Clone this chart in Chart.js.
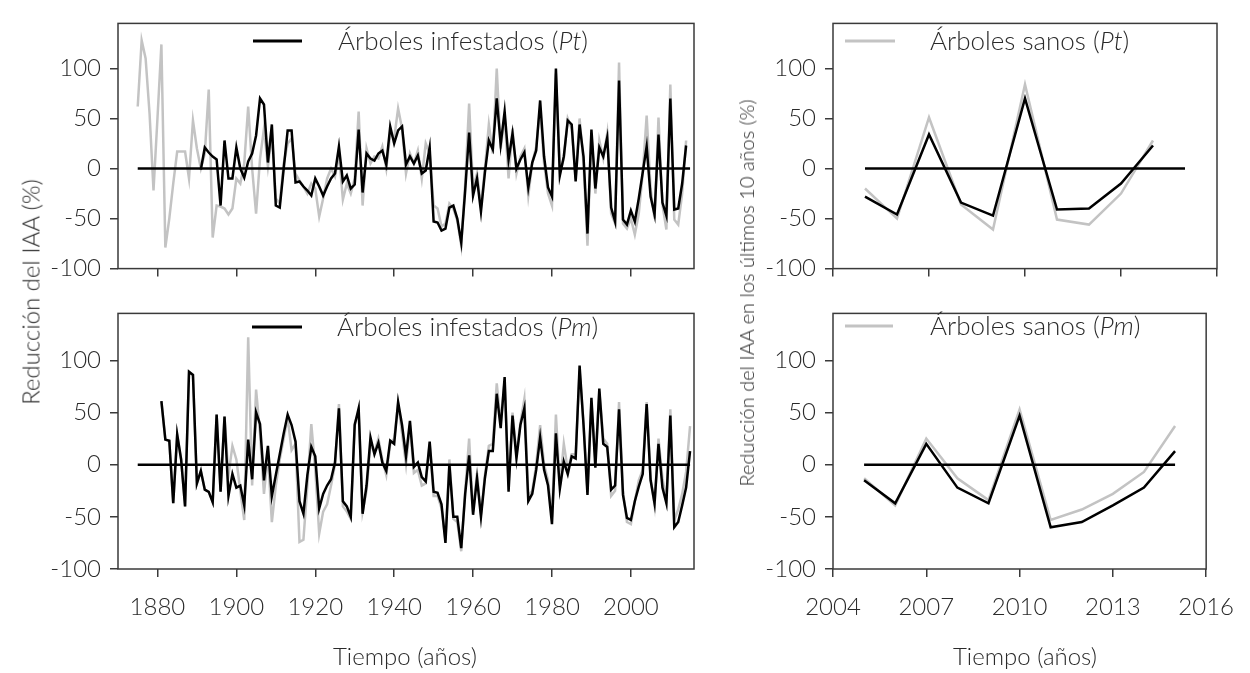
<!DOCTYPE html>
<html lang="es">
<head>
<meta charset="UTF-8">
<title>Reducción del IAA</title>
<script src="https://cdn.jsdelivr.net/npm/chart.js"></script>
<style>
  html, body { margin: 0; padding: 0; background: #fff; }
  #page { position: relative; width: 1250px; height: 673px; overflow: hidden; font-family: Lato, sans-serif; font-weight: 300; color: #2a2a2a; }
  .box { position: absolute; }
  .lbl { position: absolute; white-space: nowrap; font-size: 24px; transform: translate(-50%, -50%); }
  .rot { transform: translate(-50%, -50%) rotate(-90deg); }
</style>
</head>
<body>
<div id="page">
  <div class="box" style="left:0;top:0;width:700px;height:292px"><canvas id="tl"></canvas></div>
  <div class="box" style="left:0;top:290px;width:700px;height:383px"><canvas id="bl"></canvas></div>
  <div class="box" style="left:720px;top:0;width:530px;height:292px"><canvas id="tr"></canvas></div>
  <div class="box" style="left:720px;top:290px;width:530px;height:383px"><canvas id="br"></canvas></div>

  <div class="lbl rot" style="left:30px;top:292px">Reducción del IAA (%)</div>
  <div class="lbl rot" style="left:746px;top:293px;font-size:20px">Reducción del IAA en los últimos 10 años (%)</div>
  <div class="lbl" style="left:405px;top:655px">Tiempo (años)</div>
  <div class="lbl" style="left:1025px;top:655px">Tiempo (años)</div>
</div>

<script>
// ---- datos ----
// Pt, árboles sanos, 1875-2014
const sanosPtStart = 1875;
const sanosPt = [62, 128, 110, 55, -22, 50, 124, -79, -50, -15,
  17, 17, 17, -10, 48, 20, 0, 15, 79, -69,
  -37, -38, -40, -46, -40, -10, -15, 5, 62, 0,
  -45, 10, 40, 2, 35, -30, -35, 5, 25, 30,
  -5, -12, -18, -25, -15, -20, -48, -30, -10, 0,
  -8, 15, -31, -15, -25, -10, 57, -37, 20, 5,
  12, 10, 22, 0, 35, 30, 60, 40, -5, 15,
  5, 18, -10, 25, 15, -37, -40, -58, -55, -35,
  -40, -52, -77, -15, 65, -20, -5, -38, 0, 44,
  15, 100, 20, 52, -10, 40, -5, 12, 20, -27,
  5, 22, 60, 5, -25, -37, 95, -5, 10, 50,
  40, -10, 50, 5, -77, 35, -25, 28, 10, 35,
  -45, -55, 106, -55, -60, -50, -66, -45, -5, 53,
  -20, -50, 51, -36, -61, 84, -51, -56, -25, 28];

// Pt, árboles infestados, 1891-2014
const infestPtStart = 1891;
const infestPt = [-1, 21, 16, 12, 9, -37, 28, -10, -10, 21,
  0, -9, 7, 15, 33, 70, 64, 6, 44, -37,
  -39, 0, 38, 38, -14, -13, -18, -22, -27, -10,
  -18, -27, -18, -10, -5, 22, -13, -7, -20, -16,
  39, -24, 15, 10, 8, 15, 18, 4, 42, 25,
  38, 42, 4, 12, 5, 13, -5, -2, 21, -53,
  -54, -62, -60, -39, -37, -50, -74, -22, 36, -27,
  -10, -43, -4, 28, 19, 70, 24, 57, 9, 35,
  0, 9, 16, -19, 6, 18, 68, 12, -19, -28,
  100, -7, 12, 48, 44, -13, 44, 12, -65, 39,
  -20, 21, 12, 31, -39, -53, 88, -51, -56, -42,
  -53, -30, -4, 22, -28, -46, 34, -34, -47, 70,
  -41, -40, -15, 23];

// Pm, árboles sanos, 1881-2015
const sanosPmStart = 1881;
const sanosPm = [61, 24, 23, -37, 29, 5, -40, 89, 86, -18,
  -6, -24, -26, -36, 48, -26, 46, -10, 18, 5,
  -25, -53, 122, -20, 72, 30, -28, 10, -55, -20,
  5, 25, 45, 14, 20, -74, -72, -20, 39, -5,
  -66, -45, -38, -20, 0, 58, -40, -45, -52, 40,
  50, -45, -25, 20, 12, 25, 5, -10, 20, 25,
  58, 30, 0, 38, -8, -5, -20, -18, 20, -30,
  -30, -42, -72, 5, -52, -55, -83, -25, 25, -45,
  -8, -48, -10, 18, 20, 78, 40, 80, -20, 50,
  10, 40, 63, -30, -25, 0, 38, 0, -15, -50,
  48, -20, 20, -5, 10, 10, 90, 40, -25, 60,
  5, 70, 25, 20, -30, -25, 60, -25, -55, -57,
  -35, -15, -5, 60, -13, -39, 25, -13, -34, 53,
  -53, -43, -28, -7, 37];

// Pm, árboles infestados, 1881-2015
const infestPmStart = 1881;
const infestPm = [61, 24, 23, -37, 29, 5, -40, 89, 86, -18,
  -6, -24, -26, -36, 48, -26, 46, -30, -9, -22,
  -20, -39, 24, -14, 50, 39, -15, 18, -30, -10,
  10, 30, 48, 38, 22, -35, -47, -10, 17, 8,
  -42, -28, -20, -14, 2, 54, -35, -40, -50, 38,
  54, -47, -20, 26, 10, 21, 2, -6, 23, 20,
  60, 38, 8, 42, -2, 2, -12, -16, 22, -26,
  -27, -38, -75, 0, -50, -50, -80, -28, 9, -48,
  -13, -50, -13, 13, 13, 68, 35, 84, -26, 47,
  6, 38, 54, -35, -28, -5, 26, -5, -20, -57,
  30, -23, 3, -9, 8, 6, 95, 38, -29, 64,
  -3, 73, 20, 17, -24, -20, 53, -29, -51, -53,
  -35, -21, -9, 58, -15, -37, 20, -22, -37, 47,
  -60, -55, -39, -22, 13];

// últimos 10 años
const recentYears = [2005, 2006, 2007, 2008, 2009, 2010, 2011, 2012, 2013, 2014, 2015];
const recentSanosPt = [-20, -50, 51, -36, -61, 84, -51, -56, -25, 28];
const recentInfestPt = [-28, -46, 34, -34, -47, 70, -41, -40, -15, 23];
const recentSanosPm = [-13, -39, 25, -13, -34, 53, -53, -43, -28, -7, 37];
const recentInfestPm = [-15, -37, 20, -22, -37, 47, -60, -55, -39, -22, 13];

const yTicks = [-100, -50, 0, 50, 100];
const xTicksLong = [1880, 1900, 1920, 1940, 1960, 1980, 2000];
const xTicksShort = [2004, 2007, 2010, 2013, 2016];

// ---- helpers ----
const FONT = 'Lato, sans-serif';
const INK = '#2a2a2a';
const GRAY = '#c3c3c3';

function fromStart(start, vals) {
    return vals.map((v, i) => ({ x: start + i, y: v }));
}
function fromYears(years, vals) {
    return vals.map((v, i) => ({ x: years[i], y: v }));
}

const framePlugin = {
    id: 'frame',
    afterDraw(chart) {
        const a = chart.chartArea, ctx = chart.ctx;
        ctx.save();
        ctx.strokeStyle = '#3a3a3a';
        ctx.lineWidth = 1.5;
        ctx.strokeRect(a.left, a.top, a.right - a.left, a.bottom - a.top);
        ctx.restore();
    }
};

// leyenda con la parte en cursiva
const legendPlugin = {
    id: 'miniLegend',
    afterDraw(chart, args, opts) {
        if (!opts || !opts.parts) return;
        const ctx = chart.ctx;
        ctx.save();
        ctx.strokeStyle = opts.color;
        ctx.lineWidth = 3;
        ctx.beginPath();
        ctx.moveTo(opts.x1, opts.y);
        ctx.lineTo(opts.x2, opts.y);
        ctx.stroke();
        ctx.fillStyle = INK;
        ctx.textBaseline = 'middle';
        let x = opts.tx;
        opts.parts.forEach(p => {
            ctx.font = (p.italic ? 'italic ' : '') + '300 ' + opts.size + 'px ' + FONT;
            ctx.fillText(p.t, x, opts.y + 1);
            x += ctx.measureText(p.t).width;
        });
        ctx.restore();
    }
};

function makeChart(id, cfg) {
    const datasets = [
        { data: cfg.black, borderColor: '#000', borderWidth: 2.5, order: 0 },
        { data: cfg.zero, borderColor: '#000', borderWidth: 2.5, order: 1 },
        { data: cfg.gray, borderColor: GRAY, borderWidth: 2.5, order: 2 }
    ];
    datasets.forEach(d => { d.pointRadius = 0; d.tension = 0; d.fill = false; });

    return new Chart(document.getElementById(id), {
        type: 'line',
        data: { datasets: datasets },
        options: {
            responsive: true,
            maintainAspectRatio: false,
            animation: false,
            events: [],
            layout: { padding: cfg.pad },
            plugins: {
                legend: { display: false },
                tooltip: { enabled: false },
                miniLegend: cfg.legend
            },
            scales: {
                x: {
                    type: 'linear',
                    min: cfg.xmin, max: cfg.xmax,
                    afterBuildTicks: s => { s.ticks = cfg.xTicks.map(v => ({ value: v })); },
                    afterFit: s => { s.height = cfg.xh; },
                    grid: { drawOnChartArea: false, drawTicks: true, tickLength: 8, color: '#3a3a3a', lineWidth: 1.5 },
                    border: { display: false },
                    ticks: {
                        display: cfg.xLabels, padding: 16, color: INK,
                        font: { family: FONT, size: 24, weight: 300 },
                        maxRotation: 0, autoSkip: false,
                        callback: v => String(v)
                    }
                },
                y: {
                    min: -100, max: 145,
                    afterBuildTicks: s => { s.ticks = yTicks.map(v => ({ value: v })); },
                    afterFit: s => { s.width = cfg.yw; },
                    grid: { drawOnChartArea: false, drawTicks: true, tickLength: 8, color: '#3a3a3a', lineWidth: 1.5 },
                    border: { display: false },
                    ticks: {
                        padding: 9, color: INK,
                        font: { family: FONT, size: 24, weight: 300 },
                        callback: v => String(v)
                    }
                }
            }
        },
        plugins: [framePlugin, legendPlugin]
    });
}

makeChart('tl', {
    black: fromStart(infestPtStart, infestPt),
    gray: fromStart(sanosPtStart, sanosPt),
    zero: [{ x: 1875, y: 0 }, { x: 2015, y: 0 }],
    xmin: 1870, xmax: 2016, xTicks: xTicksLong, xLabels: false,
    pad: { top: 14, right: 6, left: 0, bottom: 0 }, yw: 118, xh: 12,
    legend: { color: '#000', x1: 253, x2: 302, y: 41, tx: 338, size: 26,
        parts: [{ t: 'Árboles infestados (' }, { t: 'Pt', italic: true }, { t: ')' }] }
});

makeChart('bl', {
    black: fromStart(infestPmStart, infestPm),
    gray: fromStart(sanosPmStart, sanosPm),
    zero: [{ x: 1875, y: 0 }, { x: 2015, y: 0 }],
    xmin: 1870, xmax: 2016, xTicks: xTicksLong, xLabels: true,
    pad: { top: 12, right: 6, left: 0, bottom: 0 }, yw: 118, xh: 104,
    legend: { color: '#000', x1: 252, x2: 302, y: 37, tx: 337, size: 26,
        parts: [{ t: 'Árboles infestados (' }, { t: 'Pm', italic: true }, { t: ')' }] }
});

makeChart('tr', {
    black: fromYears(recentYears, recentInfestPt),
    gray: fromYears(recentYears, recentSanosPt),
    zero: [{ x: 2005, y: 0 }, { x: 2015, y: 0 }],
    xmin: 2004, xmax: 2016, xTicks: xTicksShort, xLabels: false,
    pad: { top: 14, right: 33, left: 0, bottom: 0 }, yw: 113, xh: 12,
    legend: { color: GRAY, x1: 125, x2: 175, y: 41, tx: 210, size: 26,
        parts: [{ t: 'Árboles sanos (' }, { t: 'Pt', italic: true }, { t: ')' }] }
});

makeChart('br', {
    black: fromYears(recentYears, recentInfestPm),
    gray: fromYears(recentYears, recentSanosPm),
    zero: [{ x: 2005, y: 0 }, { x: 2015, y: 0 }],
    xmin: 2004, xmax: 2016, xTicks: xTicksShort, xLabels: true,
    pad: { top: 12, right: 33, left: 0, bottom: 0 }, yw: 113, xh: 104,
    legend: { color: GRAY, x1: 125, x2: 173, y: 36, tx: 210, size: 26,
        parts: [{ t: 'Árboles sanos (' }, { t: 'Pm', italic: true }, { t: ')' }] }
});
</script>
</body>
</html>
